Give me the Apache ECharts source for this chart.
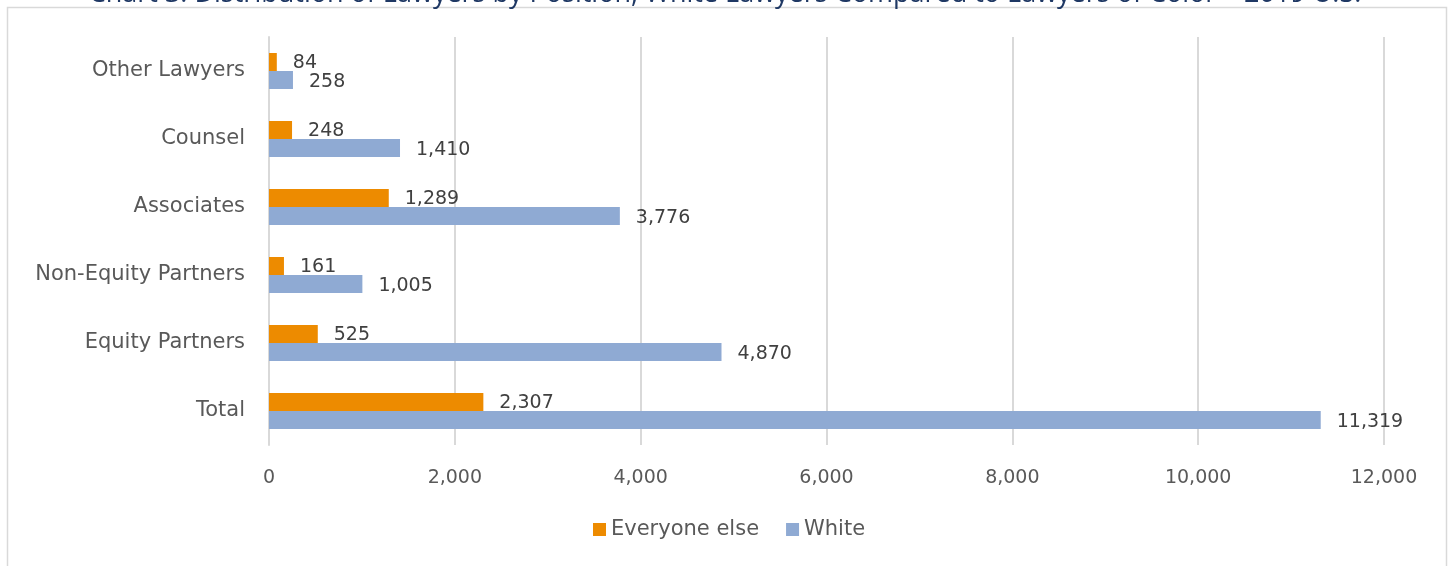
<!DOCTYPE html>
<html><head><meta charset="utf-8">
<script src="https://cdn.jsdelivr.net/npm/echarts@6/dist/echarts.min.js"></script>
<style>html,body{margin:0;padding:0;background:#fff}#c{width:1450px;height:566px}</style>
</head><body><div id="c"></div>
<script>
const categories = ['Total', 'Equity Partners', 'Non-Equity Partners', 'Associates', 'Counsel', 'Other Lawyers'];
const everyoneElse = [2307, 525, 161, 1289, 248, 84];
const white = [11319, 4870, 1005, 3776, 1410, 258];
const seriesNames = ['Everyone else', 'White'];
const titleText = 'Chart 3: Distribution of Lawyers by Position, White Lawyers Compared to Lawyers of Color – 2019 U.S.';

const fmt = v => Number(v).toLocaleString('en-US');
const FONT = 'DejaVu Sans';
const chart = echarts.init(document.getElementById('c'));
const lbl = {show: true, position: 'right', distance: 16, color: '#404040', fontSize: 19, fontFamily: FONT,
  formatter: p => fmt(p.value)};
chart.setOption({
  animation: false,
  title: {text: titleText, left: 'center', top: -24,
    textStyle: {color: '#1F3864', fontSize: 27, fontWeight: 'normal', fontFamily: 'Open Sans'}},
  graphic: [{type: 'rect', shape: {x: 7.5, y: 7.5, width: 1439, height: 600}, z: -1,
    style: {fill: 'none', stroke: '#d9d9d9', lineWidth: 1.5}}],
  grid: {left: 269, right: 66, top: 37, bottom: 121},
  legend: {bottom: 21, left: 588, itemWidth: 13, itemHeight: 13, itemGap: 27,
    icon: 'rect', textStyle: {color: '#595959', fontSize: 21, fontFamily: FONT},
    data: seriesNames},
  xAxis: {type: 'value', min: 0, max: 12000, interval: 2000,
    axisLine: {show: false}, axisTick: {show: false},
    splitLine: {lineStyle: {color: '#d9d9d9', width: 2}},
    axisLabel: {color: '#595959', fontSize: 19, fontFamily: FONT, margin: 24, formatter: v => fmt(v)}},
  yAxis: {type: 'category', data: categories,
    axisLine: {show: true, lineStyle: {color: '#d9d9d9', width: 2}}, axisTick: {show: false},
    axisLabel: {color: '#595959', fontSize: 21, fontFamily: FONT, margin: 24}},
  series: [
    {name: seriesNames[0], type: 'bar', data: everyoneElse, barWidth: 18, barGap: '0%',
      itemStyle: {color: '#ED8B00'}, label: Object.assign({}, lbl, {offset: [0, 1]})},
    {name: seriesNames[1], type: 'bar', data: white, barWidth: 18, barGap: '0%',
      itemStyle: {color: '#8FAAD3'}, label: Object.assign({}, lbl, {offset: [0, 2]})}
  ]
});
</script></body></html>
